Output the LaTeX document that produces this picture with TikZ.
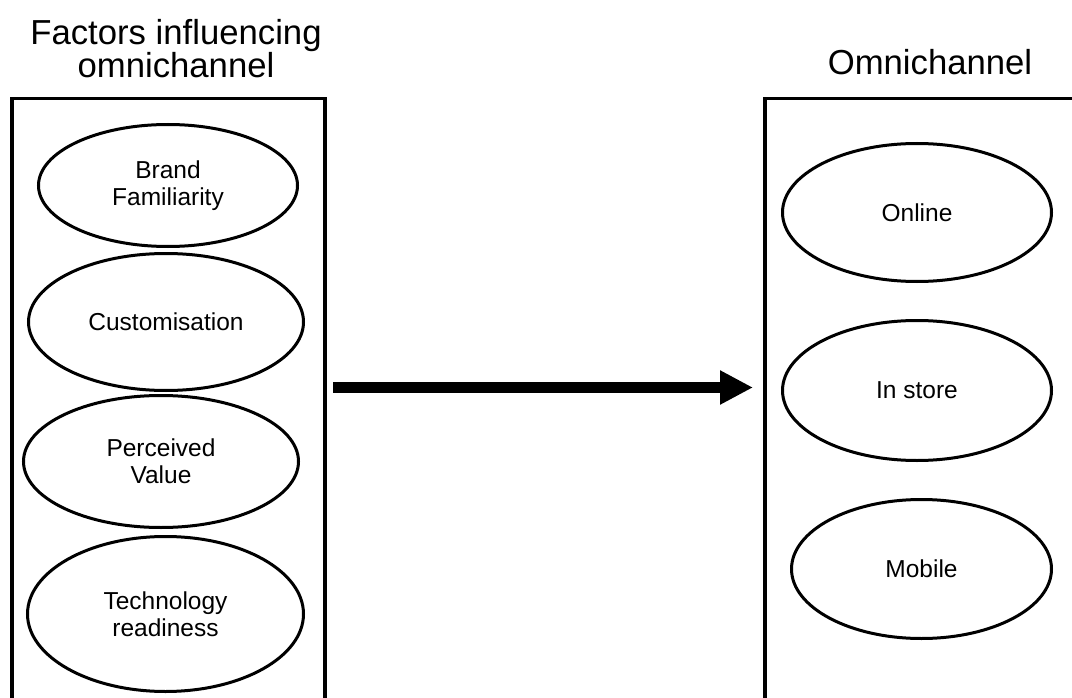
\documentclass[tikz,border=0pt]{standalone}
\usepackage{fontspec}
\setmainfont{Liberation Sans}
\usetikzlibrary{arrows.meta,shapes.geometric}
\tikzset{
	factor/.style={ellipse, draw, line width=3pt, inner sep=0pt, align=center, font=\fontsize{24.5}{27}\selectfont},
	heading/.style={align=center, font=\fontsize{34.7}{33.3}\selectfont},
	panel/.style={line width=3.5pt},
}

\begin{document}
\begin{tikzpicture}[x=1pt, y=-1pt]
			%%%%% START %%%%%
			\useasboundingbox (0, 0) rectangle (1072, 698);
			
			\node[heading] (lefttitle) at (176, 48.5) {Factors influencing\\omnichannel};
			\node[heading, anchor=base] (righttitle) at (930, 75) {Omnichannel};
			
			\draw[panel] (12, 705) -- (12, 98.7) -- (325, 98.7) -- (325, 705);
			\draw[panel] (765, 705) -- (765, 98.7) -- (1080, 98.7);
			
			\node[factor, minimum width=259pt, minimum height=122pt] (brand) at (168, 185.5) {Brand\\Familiarity};
			\node[factor, minimum width=275pt, minimum height=137pt] (custom) at (166, 322) {Customisation};
			\node[factor, minimum width=275pt, minimum height=132pt] (value) at (161, 461.5) {Perceived\\Value};
			\node[factor, minimum width=276pt, minimum height=155pt] (tech) at (165.5, 614) {Technology\\readiness};
			
			\node[factor, minimum width=269pt, minimum height=138pt] (online) at (917, 212.5) {Online};
			\node[factor, minimum width=269pt, minimum height=140pt] (instore) at (917, 390.5) {In store};
			\node[factor, minimum width=260pt, minimum height=139pt] (mobile) at (921.5, 569) {Mobile};
			
			\coordinate (tail) at (333, 387.5);
			\coordinate (tip) at (753, 387.5);
			\draw[line width=11pt, -{Triangle[length=33pt, width=32pt]}] (tail) -- (tip);
			%%%%% END %%%%%
\end{tikzpicture}
\end{document}
